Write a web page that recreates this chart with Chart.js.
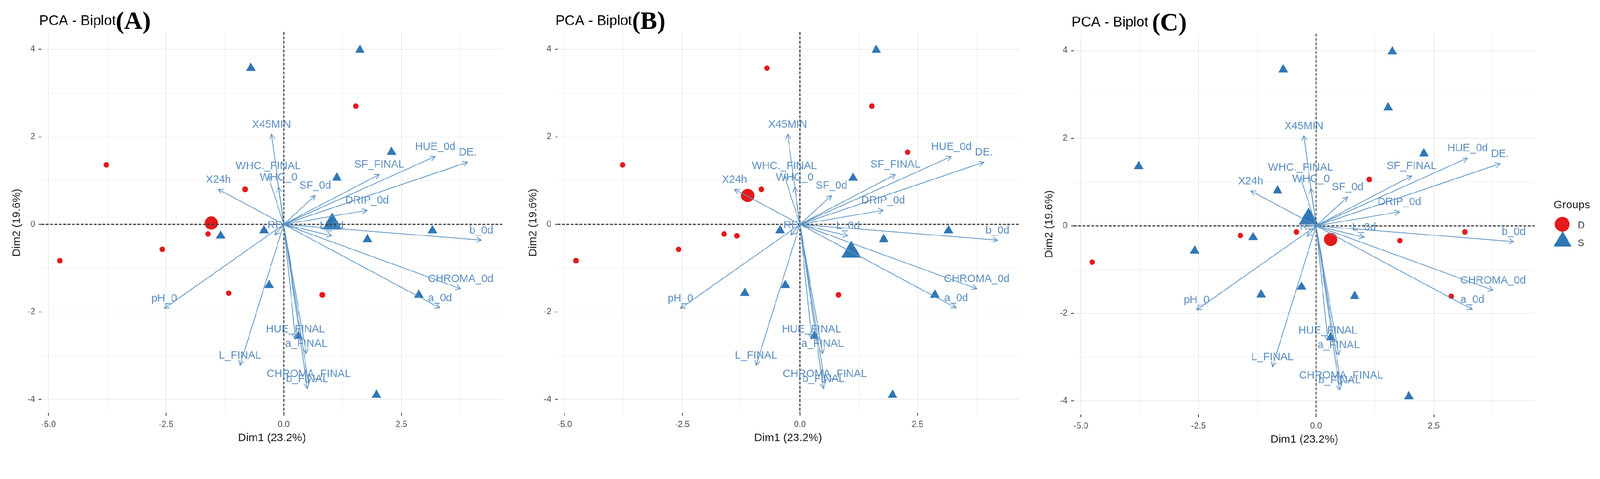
<!DOCTYPE html>
<html lang="en">
<head>
  <meta charset="UTF-8" />
  <title>PCA - Biplot (A) (B) (C)</title>
  <script src="https://cdn.jsdelivr.net/npm/chart.js"></script>
  <style>
    html, body { margin: 0; padding: 0; background: #fff; overflow: hidden; }
    .figure { position: relative; width: 4324px; height: 1226px; overflow: hidden; background: #fff; transform-origin: 0 0; }
    .figure canvas { position: absolute; top: 0; }
  </style>
</head>
<body>
  <div class="figure">
    <canvas id="biplotA" width="1395" height="1226" style="left:0px"></canvas>
    <canvas id="biplotB" width="1395" height="1226" style="left:1395px"></canvas>
    <canvas id="biplotC" width="1534" height="1226" style="left:2790px; top:4px"></canvas>
  </div>

  <script>
    // individuals: scores on Dim1 / Dim2 (same in all three panels)
    const indX = [1.53, -3.77, -0.82, -1.61, -2.58, -4.76, -1.17, 0.82, 1.62, -0.70,
                  2.29, 1.13, -0.42, -1.34, 3.16, 1.78, -0.31, 2.87, 0.31, 1.97];
    const indY = [2.70, 1.36, 0.80, -0.22, -0.57, -0.83, -1.57, -1.61, 3.98, 3.57,
                  1.65, 1.06, -0.14, -0.26, -0.14, -0.34, -1.39, -1.61, -2.55, -3.90];

    // group of each individual, one list per panel
    const groupsA = ['D','D','D','D','D','D','D','D','S','S','S','S','S','S','S','S','S','S','S','S'];
    const groupsB = ['D','D','D','D','D','D','S','D','S','D','D','S','S','D','S','S','S','S','S','S'];
    const groupsC = ['S','S','S','D','S','D','S','S','S','S','S','D','D','S','D','D','S','D','S','S'];

    // group mean points [D, S]
    const meanAX = [-1.54, 1.03], meanAY = [0.03, 0.01];
    const meanBX = [-1.11, 1.09], meanBY = [0.66, -0.63];
    const meanCX = [0.31, -0.16], meanCY = [-0.31, 0.16];

    // variables: arrow tips
    const varNames = ['X45MIN', 'WHC._FINAL', 'WHC_0', 'X24h', 'SF_0d', 'SF_FINAL', 'HUE_0d', 'DE.',
                      'DRIP_0d', 'b_0d', 'L_0d', 'RE', 'CHROMA_0d', 'a_0d', 'pH_0', 'L_FINAL',
                      'HUE_FINAL', 'a_FINAL', 'CHROMA_FINAL', 'b_FINAL'];
    const varX = [-0.26, -0.33, -0.11, -1.39, 0.67, 2.03, 3.22, 3.91,
                  1.77, 4.20, 1.02, -0.19, 3.76, 3.32, -2.54, -0.93,
                  0.25, 0.48, 0.53, 0.50];
    const varY = [2.06, 1.11, 0.85, 0.80, 0.66, 1.14, 1.55, 1.42,
                  0.32, -0.36, -0.26, -0.24, -1.47, -1.91, -1.92, -3.22,
                  -2.62, -2.95, -3.64, -3.75];

    // axes
    const xTickValues = [-5, -3.75, -2.5, -1.25, 0, 1.25, 2.5, 3.75];
    const xTickLabels = ['-5.0', '', '-2.5', '', '0.0', '', '2.5', ''];
    const yTickValues = [-4, -3, -2, -1, 0, 1, 2, 3, 4];
    const yTickLabels = ['-4', '', '-2', '', '0', '', '2', '', '4'];
    const groupNames = ['D', 'S'];

    const X_MIN = -5.15, X_MAX = 4.65;
    const Y_MIN = -4.31, Y_MAX = 4.39;

    const SANS = '"Liberation Sans", Arial, sans-serif';
    const SERIF = '"Liberation Serif", "Times New Roman", serif';
    const RED = '#E41A1C';
    const BLUE = '#2F77B5';
    const VAR_LINE = '#5B93C4';
    const VAR_TEXT = '#5A8DBF';

    // keep the figure at 4324 device pixels even if the page is zoomed
    const fig = document.querySelector('.figure');
    const fit = Math.min(window.innerWidth / 4324, window.innerHeight / 1226);
    if (fit > 0 && Math.abs(fit - 1) > 0.002) fig.style.transform = 'scale(' + fit + ')';

    function pick(groups, name) {
      const out = [];
      groups.forEach((g, i) => { if (g === name) out.push({ x: indX[i], y: indY[i] }); });
      return out;
    }

    // dashed zero lines, variable arrows, title and legend
    const biplotDecor = {
      id: 'biplotDecor',
      afterDatasetsDraw(chart) {
        const { ctx, chartArea: a, scales: { x, y } } = chart;
        const x0 = x.getPixelForValue(0), y0 = y.getPixelForValue(0);
        ctx.save();
        ctx.beginPath();
        ctx.rect(a.left, a.top, a.right - a.left, a.bottom - a.top);
        ctx.clip();

        ctx.strokeStyle = '#3a3a3a';
        ctx.lineWidth = 3;
        ctx.setLineDash([7.5, 4.3]);
        ctx.beginPath();
        ctx.moveTo(a.left, y0); ctx.lineTo(a.right, y0);
        ctx.moveTo(x0, a.top); ctx.lineTo(x0, a.bottom);
        ctx.stroke();
        ctx.setLineDash([]);

        ctx.strokeStyle = VAR_LINE;
        ctx.lineWidth = 2;
        varNames.forEach((name, i) => {
          const tx = x.getPixelForValue(varX[i]), ty = y.getPixelForValue(varY[i]);
          const ang = Math.atan2(ty - y0, tx - x0);
          ctx.beginPath();
          ctx.moveTo(x0, y0);
          ctx.lineTo(tx, ty);
          ctx.moveTo(tx - 15 * Math.cos(ang - 0.5), ty - 15 * Math.sin(ang - 0.5));
          ctx.lineTo(tx, ty);
          ctx.lineTo(tx - 15 * Math.cos(ang + 0.5), ty - 15 * Math.sin(ang + 0.5));
          ctx.stroke();
        });

        ctx.fillStyle = VAR_TEXT;
        ctx.font = '29px ' + SANS;
        ctx.textAlign = 'center';
        ctx.textBaseline = 'middle';
        varNames.forEach((name, i) => {
          ctx.fillText(name, x.getPixelForValue(varX[i]), y.getPixelForValue(varY[i]) - 26);
        });
        ctx.restore();
      },
      afterDraw(chart, args, opts) {
        const { ctx } = chart;
        ctx.save();
        ctx.textAlign = 'left';
        ctx.textBaseline = 'alphabetic';
        ctx.fillStyle = '#000';
        ctx.font = '38px ' + SANS;
        ctx.fillText('PCA - Biplot', 106, 68);
        const w = ctx.measureText('PCA - Biplot').width;
        ctx.font = 'bold 68px ' + SERIF;
        ctx.fillText('(' + opts.letter + ')', 106 + w + opts.gap, 78);

        if (opts.legend) {
          ctx.fillStyle = '#1a1a1a';
          ctx.font = '30px ' + SANS;
          ctx.textBaseline = 'middle';
          ctx.fillText('Groups', 1409, 551);
          ctx.fillStyle = RED;
          ctx.beginPath();
          ctx.arc(1432, 602, 20, 0, Math.PI * 2);
          ctx.fill();
          ctx.fillStyle = BLUE;
          ctx.beginPath();
          ctx.moveTo(1433, 620);
          ctx.lineTo(1433 + 24.2, 662);
          ctx.lineTo(1433 - 24.2, 662);
          ctx.closePath();
          ctx.fill();
          ctx.fillStyle = '#333';
          ctx.font = '26px ' + SANS;
          ctx.fillText(groupNames[0], 1474, 606);
          ctx.fillText(groupNames[1], 1474, 654);
        }
        ctx.restore();
      }
    };

    function makeBiplot(canvasId, letter, groups, meanX, meanY, gap, legend, rightPad) {
      const ctx = document.getElementById(canvasId).getContext('2d');
      return new Chart(ctx, {
        type: 'scatter',
        data: {
          datasets: [
            { label: 'D', data: pick(groups, 'D'), pointStyle: 'circle', pointRadius: 7.5,
              backgroundColor: RED, borderWidth: 0 },
            { label: 'S', data: pick(groups, 'S'), pointStyle: 'triangle', pointRadius: 15,
              backgroundColor: BLUE, borderWidth: 0 },
            { label: 'D mean', data: [{ x: meanX[0], y: meanY[0] }], pointStyle: 'circle', pointRadius: 18,
              backgroundColor: RED, borderWidth: 0 },
            { label: 'S mean', data: [{ x: meanX[1], y: meanY[1] }], pointStyle: 'triangle', pointRadius: 31,
              backgroundColor: BLUE, borderWidth: 0 }
          ]
        },
        options: {
          responsive: false,
          animation: false,
          devicePixelRatio: 1,
          events: [],
          layout: { padding: { left: 0, top: 87, right: rightPad, bottom: 0 } },
          plugins: {
            legend: { display: false },
            tooltip: { enabled: false },
            biplotDecor: { letter: letter, gap: gap, legend: legend }
          },
          scales: {
            x: {
              type: 'linear',
              min: X_MIN,
              max: X_MAX,
              afterBuildTicks: s => { s.ticks = xTickValues.map(v => ({ value: v })); },
              afterFit: s => { s.height = 110; },
              border: { display: false },
              grid: {
                color: c => xTickLabels[c.index] ? '#EBEBEB' : '#F1F1F1',
                lineWidth: c => xTickLabels[c.index] ? 2 : 1.5,
                tickLength: 7,
                tickWidth: 2,
                tickColor: c => xTickLabels[c.index] ? '#333' : 'rgba(0,0,0,0)'
              },
              ticks: {
                autoSkip: false,
                maxRotation: 0,
                padding: 11,
                color: '#4D4D4D',
                font: { family: SANS, size: 23 },
                callback: (v, i) => xTickLabels[i]
              },
              title: {
                display: true,
                text: 'Dim1 (23.2%)',
                color: '#1a1a1a',
                font: { family: SANS, size: 30 },
                padding: { top: 0, bottom: 24 }
              }
            },
            y: {
              type: 'linear',
              min: Y_MIN,
              max: Y_MAX,
              afterBuildTicks: s => { s.ticks = yTickValues.map(v => ({ value: v })); },
              afterFit: s => { s.width = 112; },
              border: { display: false },
              grid: {
                color: c => yTickLabels[c.index] ? '#EBEBEB' : '#F1F1F1',
                lineWidth: c => yTickLabels[c.index] ? 2 : 1.5,
                tickLength: 7,
                tickWidth: 2,
                tickColor: c => yTickLabels[c.index] ? '#333' : 'rgba(0,0,0,0)'
              },
              ticks: {
                autoSkip: false,
                padding: 10,
                color: '#4D4D4D',
                font: { family: SANS, size: 23 },
                callback: (v, i) => yTickLabels[i]
              },
              title: {
                display: true,
                text: 'Dim2 (19.6%)',
                color: '#1a1a1a',
                font: { family: SANS, size: 30 },
                padding: { top: 28, bottom: 0 }
              }
            }
          }
        },
        plugins: [biplotDecor]
      });
    }

    makeBiplot('biplotA', 'A', groupsA, meanAX, meanAY, 0, false, 37);
    makeBiplot('biplotB', 'B', groupsB, meanBX, meanBY, 0, false, 37);
    makeBiplot('biplotC', 'C', groupsC, meanCX, meanCY, 10, true, 176);
  </script>
</body>
</html>
